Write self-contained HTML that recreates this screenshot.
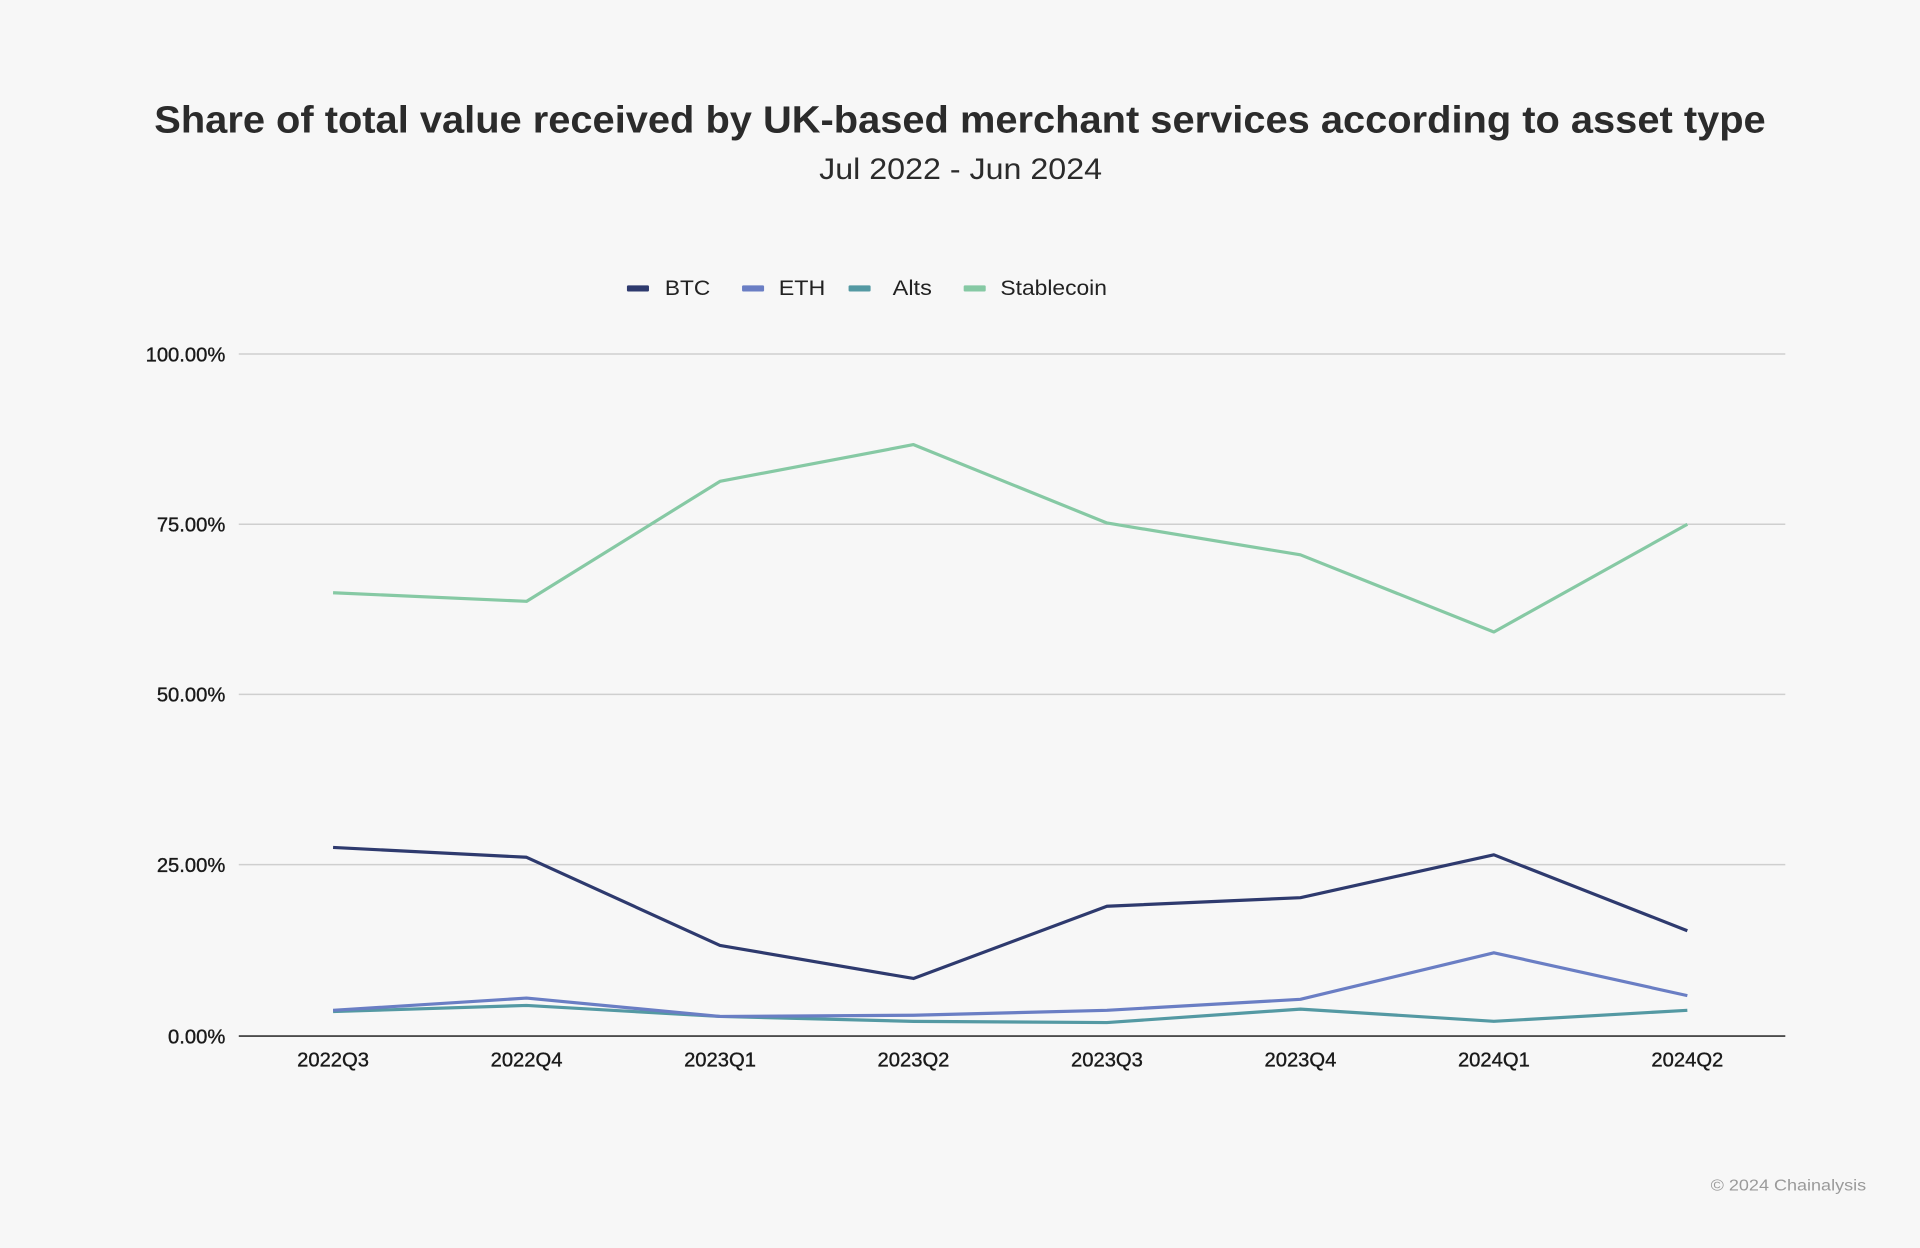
<!DOCTYPE html>
<html><head><meta charset="utf-8"><style>
html,body{margin:0;padding:0;background:#f7f7f7;}
svg{display:block;}
</style></head><body>
<svg width="1920" height="1248" viewBox="0 0 1568 1019" xmlns="http://www.w3.org/2000/svg" font-family="Liberation Sans, Arial, sans-serif">
<rect width="1568" height="1019" fill="#f7f7f7"/>
<text x="126" y="108" textLength="1316" lengthAdjust="spacingAndGlyphs" font-size="31" font-weight="bold" fill="#2b2b2b">Share of total value received by UK-based merchant services according to asset type</text>
<text x="669" y="146" textLength="231" lengthAdjust="spacingAndGlyphs" font-size="24" fill="#2b2b2b">Jul 2022 - Jun 2024</text>
<g font-size="17" fill="#222">
<rect x="512" y="233" width="18" height="5" rx="1" fill="#2e3a6e"/><text x="543" y="241" textLength="37" lengthAdjust="spacingAndGlyphs">BTC</text>
<rect x="606" y="233" width="18" height="5" rx="1" fill="#6a7ec4"/><text x="636" y="241" textLength="38" lengthAdjust="spacingAndGlyphs">ETH</text>
<rect x="693" y="233" width="18" height="5" rx="1" fill="#5499a3"/><text x="729" y="241" textLength="32" lengthAdjust="spacingAndGlyphs">Alts</text>
<rect x="787" y="233" width="18" height="5" rx="1" fill="#86c9a4"/><text x="817" y="241" textLength="87" lengthAdjust="spacingAndGlyphs">Stablecoin</text>
</g>
<g stroke="#cfcfcf" stroke-width="1.2">
<line x1="195" y1="289" x2="1458" y2="289"/>
<line x1="195" y1="428" x2="1458" y2="428"/>
<line x1="195" y1="567" x2="1458" y2="567"/>
<line x1="195" y1="706" x2="1458" y2="706"/>
</g>
<line x1="195" y1="846" x2="1458" y2="846" stroke="#333" stroke-width="1.3"/>
<g font-size="16.5" fill="#1a1a1a" text-anchor="end" stroke="#1a1a1a" stroke-width="0.3">
<text x="184" y="295">100.00%</text>
<text x="184" y="434">75.00%</text>
<text x="184" y="573">50.00%</text>
<text x="184" y="712">25.00%</text>
<text x="184" y="852">0.00%</text>
</g>
<g font-size="16.5" fill="#1a1a1a" text-anchor="middle" stroke="#1a1a1a" stroke-width="0.3">
<text x="272" y="871">2022Q3</text><text x="430" y="871">2022Q4</text>
<text x="588" y="871">2023Q1</text><text x="746" y="871">2023Q2</text>
<text x="904" y="871">2023Q3</text><text x="1062" y="871">2023Q4</text>
<text x="1220" y="871">2024Q1</text><text x="1378" y="871">2024Q2</text>
</g>
<g fill="none" stroke-width="2.6" stroke-linejoin="round">
<polyline stroke="#86c9a4" points="272,484 430,491 588,393 746,363 904,427 1062,453 1220,516 1378,428"/>
<polyline stroke="#5499a3" points="272,826 430,821 588,830 746,834 904,835 1062,824 1220,834 1378,825"/>
<polyline stroke="#6a7ec4" points="272,825 430,815 588,830 746,829 904,825 1062,816 1220,778 1378,813"/>
<polyline stroke="#2e3a6e" points="272,692 430,700 588,772 746,799 904,740 1062,733 1220,698 1378,760"/>
</g>
<text x="1397" y="972" textLength="127" lengthAdjust="spacingAndGlyphs" font-size="13" fill="#9a9a9a">© 2024 Chainalysis</text>
</svg>
</body></html>
